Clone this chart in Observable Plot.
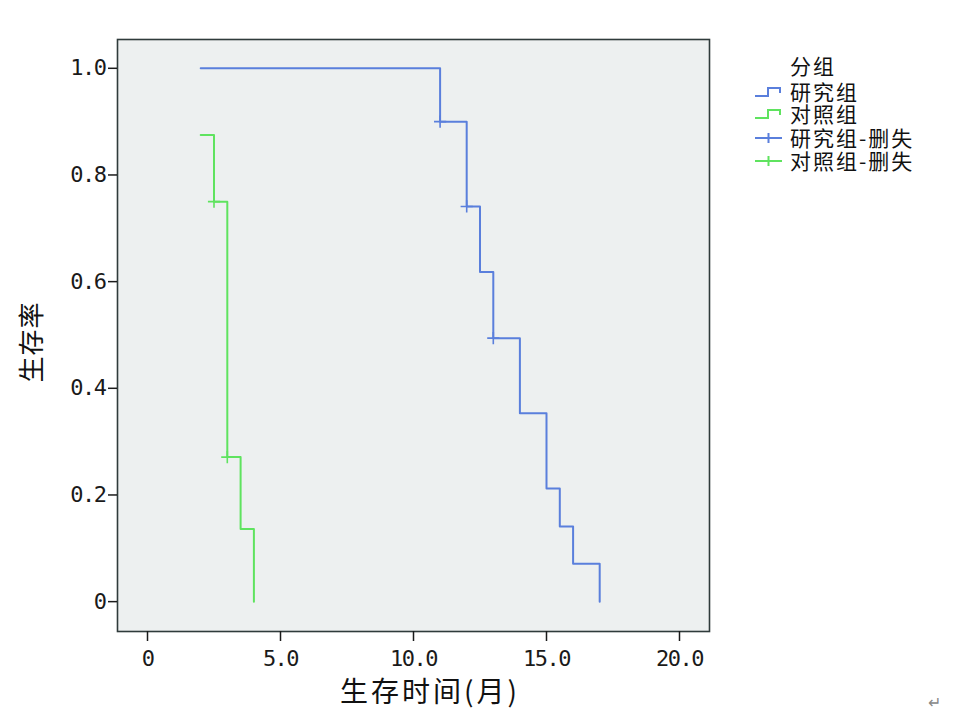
<!DOCTYPE html>
<html><head><meta charset="utf-8">
<script src="https://cdn.jsdelivr.net/npm/d3@7"></script>
<script src="https://cdn.jsdelivr.net/npm/@observablehq/plot@0.6"></script>
<style>
body{margin:0;background:#fff;}
#wrap{position:relative;width:957px;height:717px;overflow:hidden;font-family:"Noto Sans CJK SC",sans-serif;}
#wrap svg text{letter-spacing:-1.5px;}
.abs{position:absolute;white-space:nowrap;color:#111;line-height:1;}
</style></head><body><div id="wrap"></div>
<script>
const studyTime = [2, 11, 12, 12.5, 13, 14, 15, 15.5, 16, 17];
const studySurv = [1.0, 0.9, 0.741, 0.618, 0.494, 0.353, 0.212, 0.141, 0.071, 0];
const ctrlTime = [2, 2.5, 3, 3.5, 4];
const ctrlSurv = [0.875, 0.75, 0.271, 0.136, 0];
const studyCensorTime = [11, 12, 13];
const studyCensorSurv = [0.9, 0.741, 0.494];
const ctrlCensorTime = [2.5, 3];
const ctrlCensorSurv = [0.75, 0.271];
const xTicks = [0, 5, 10, 15, 20];
const yTicks = [0, 0.2, 0.4, 0.6, 0.8, 1.0];
const legendTitle = "分组";
const legendItems = ["研究组", "对照组", "研究组-删失", "对照组-删失"];
const xLabel = "生存时间(月)";
const yLabel = "生存率";
const colors = ["#5a7fdc", "#5fe35f"];

const fmt = d => d === 0 ? "0" : d3.format(".1f")(d);
const toRows = (t, s) => t.map((v, i) => ({t: v, s: s[i]}));
const study = toRows(studyTime, studySurv);
const ctrl = toRows(ctrlTime, ctrlSurv);
const studyC = toRows(studyCensorTime, studyCensorSurv);
const ctrlC = toRows(ctrlCensorTime, ctrlCensorSurv);

const chart = Plot.plot({
  width: 957, height: 717,
  marginLeft: 117, marginRight: 248, marginTop: 39, marginBottom: 86,
  style: {fontFamily: "DejaVu Sans Mono", fontSize: "22px", color: "#1a1a1a", background: "transparent"},
  x: {domain: [-1.128, 21.128]},
  y: {domain: [-0.056, 1.054]},
  marks: [
    Plot.frame({fill: "#edf0f0", stroke: null}),
    Plot.line(study, {x: "t", y: "s", curve: "step-after", stroke: colors[0], strokeWidth: 2}),
    Plot.line(ctrl, {x: "t", y: "s", curve: "step-after", stroke: colors[1], strokeWidth: 2}),
    Plot.dot(studyC, {x: "t", y: "s", symbol: "plus", r: 4, stroke: colors[0], strokeWidth: 1.6}),
    Plot.dot(ctrlC, {x: "t", y: "s", symbol: "plus", r: 4, stroke: colors[1], strokeWidth: 1.6}),
    Plot.frame({stroke: "#2f3b3b", strokeWidth: 1.6}),
    Plot.axisX({ticks: xTicks, tickFormat: fmt, tickSize: 10, tickPadding: 9, label: null, strokeWidth: 1.5}),
    Plot.axisY({ticks: yTicks, tickFormat: fmt, tickSize: 9, tickPadding: 3, label: null, strokeWidth: 1.5})
  ]
});
const wrap = document.getElementById("wrap");
wrap.appendChild(chart);

function addDiv(text, css) {
  const d = document.createElement("div");
  d.className = "abs";
  d.textContent = text;
  Object.assign(d.style, css);
  wrap.appendChild(d);
  return d;
}
// axis titles
addDiv(xLabel, {left: "340px", top: "676px", fontSize: "28px", letterSpacing: "3px", width: "175px", textAlign: "center"});
addDiv(yLabel, {left: "30px", top: "342px", fontSize: "26px", letterSpacing: "1px", transform: "translate(-50%,-50%) rotate(-90deg)"});

// legend
const lgCss = {fontSize: "21px", lineHeight: "21px", letterSpacing: "2px", height: "21px"};
addDiv(legendTitle, Object.assign({left: "790px", top: "55px"}, lgCss));
const rowY = [81, 103, 127, 150];
legendItems.forEach((name, i) => {
  addDiv(name, Object.assign({left: "790px", top: rowY[i] + "px"}, lgCss));
  const c = colors[i % 2];
  const svg = d3.create("svg").attr("width", 30).attr("height", 20)
    .style("position", "absolute").style("left", "754px").style("top", (rowY[i] + 1) + "px");
  if (i < 2) {
    svg.append("path").attr("d", "M1,14 H14 V6 H26 V11").attr("fill", "none").attr("stroke", c).attr("stroke-width", 2);
  } else {
    svg.append("path").attr("d", "M1,10 H28 M14.5,5 V15").attr("fill", "none").attr("stroke", c).attr("stroke-width", 2);
  }
  wrap.appendChild(svg.node());
});
addDiv("↵", {left: "928px", top: "693px", fontSize: "16px", color: "#888"});
</script></body></html>
